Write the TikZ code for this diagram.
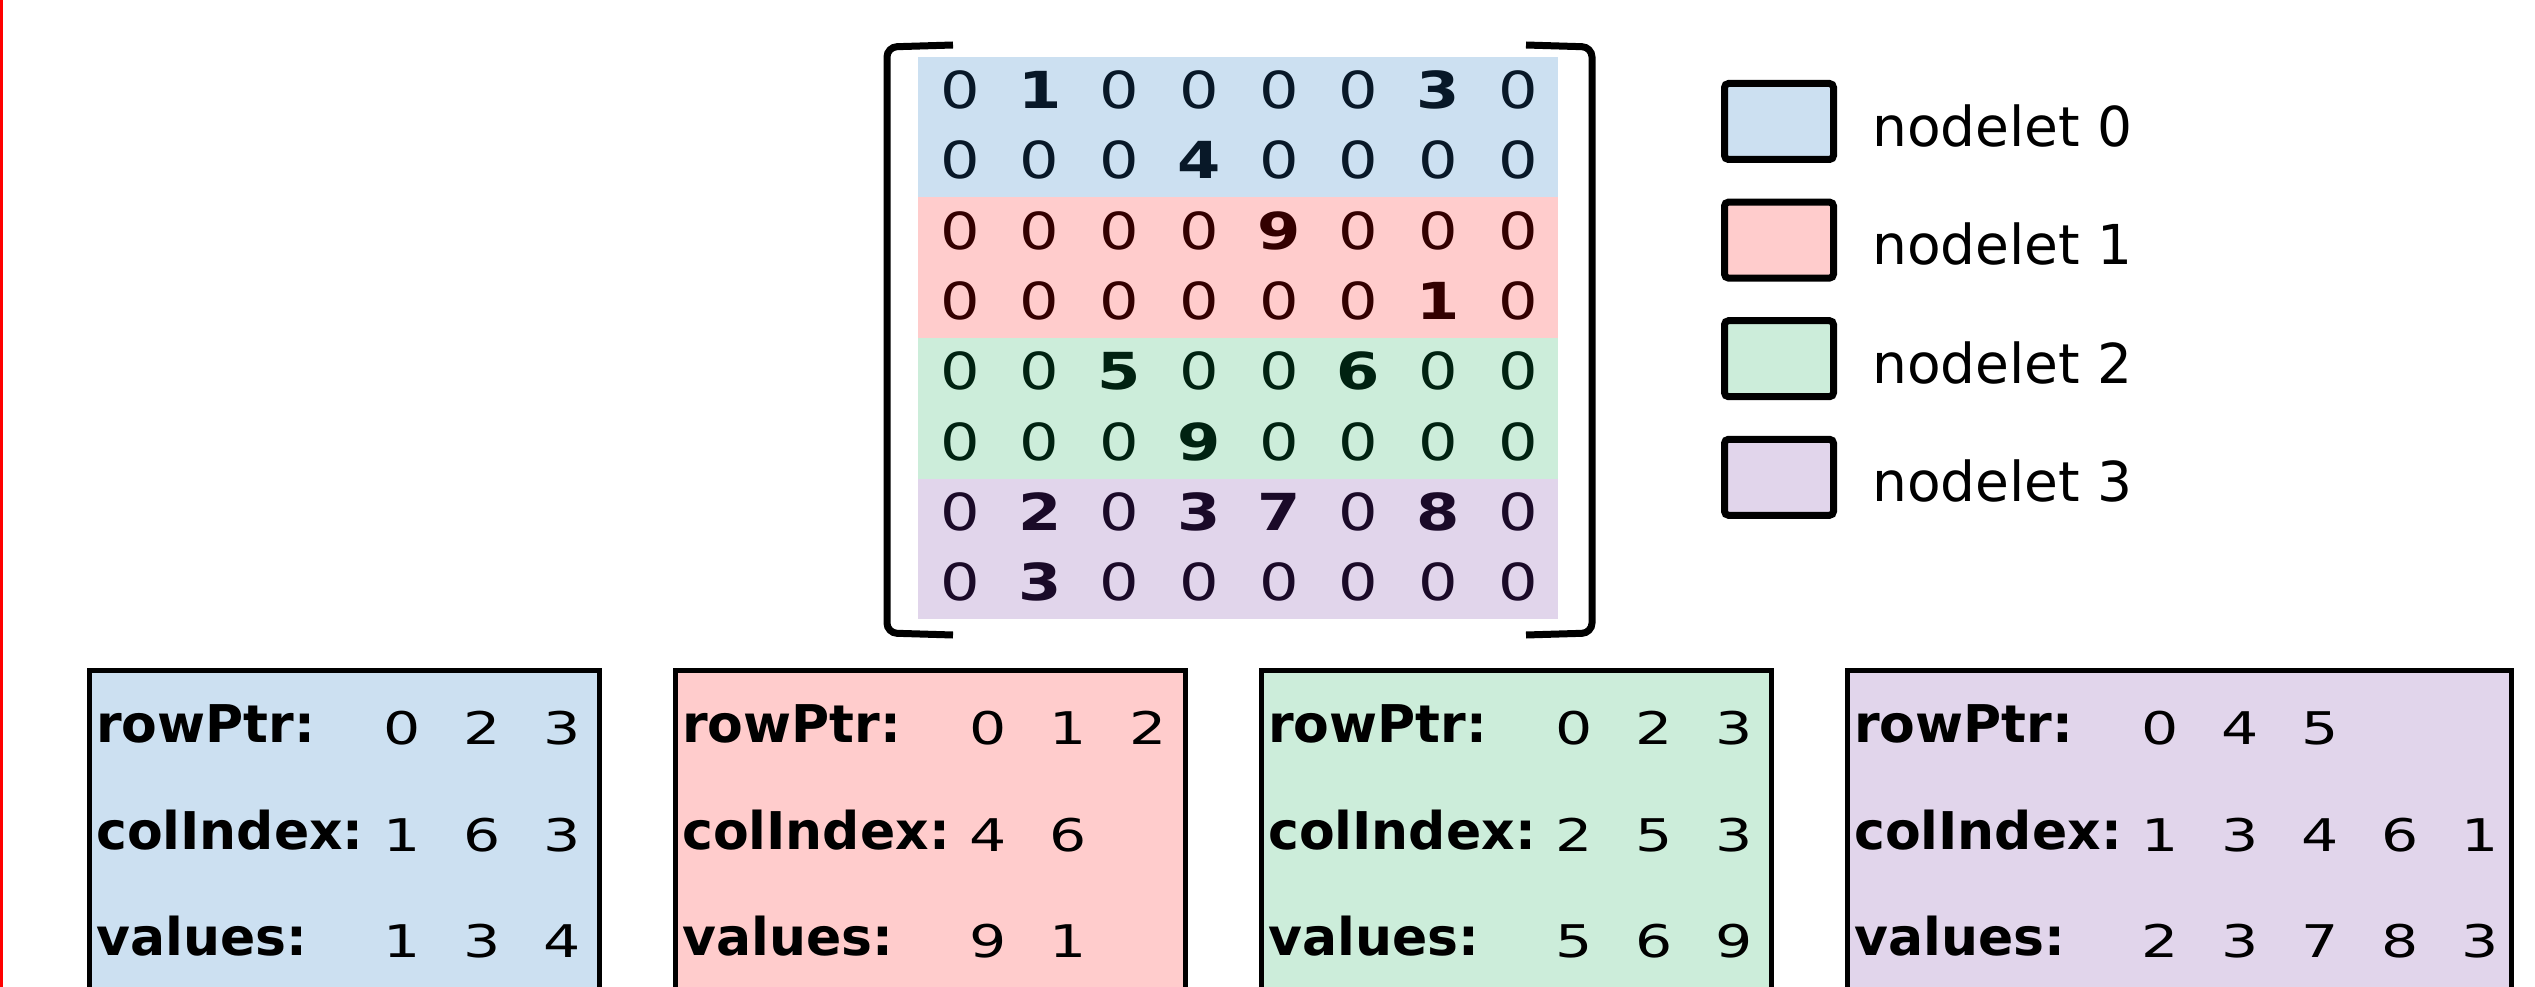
\documentclass[tikz,border=0pt]{standalone}
\usepackage{fontspec}
\setmainfont{DejaVu Sans}
\newfontfamily\numfont[FakeStretch=1.3]{DejaVu Sans}
\newfontfamily\matfont[FakeStretch=1.22]{DejaVu Sans}
\usepackage{tikz}
\usetikzlibrary{positioning}

\definecolor{fill0}{RGB}{204,224,241}
\definecolor{fill1}{RGB}{255,204,204}
\definecolor{fill2}{RGB}{204,237,218}
\definecolor{fill3}{RGB}{225,213,235}
\definecolor{txt0}{RGB}{8,24,40}
\definecolor{txt1}{RGB}{51,0,0}
\definecolor{txt2}{RGB}{0,34,17}
\definecolor{txt3}{RGB}{26,10,40}

\begin{document}
\begin{tikzpicture}[
        x=1pt, y=-1pt,
        band/.style={inner sep=0pt, minimum width=640pt, minimum height=140.5pt},
        entry/.style={inner sep=0pt, font=\matfont\fontsize{51}{60}\selectfont},
        bracket/.style={line width=7pt, rounded corners=10pt},
        sq/.style={draw, line width=7pt, rounded corners=4pt, minimum width=109pt, minimum height=76pt, inner sep=0pt},
        legtext/.style={inner sep=0pt, font=\fontsize{55}{64}\selectfont},
        csr/.style={draw, line width=5pt, minimum height=420pt, inner sep=0pt, anchor=north west},
        lab/.style={anchor=base west, inner sep=0pt, font=\fontsize{52}{60}\selectfont\bfseries},
        num/.style={anchor=base, inner sep=0pt, font=\numfont\fontsize{45}{52}\selectfont},
      ]
      \useasboundingbox (0,0) rectangle (2535,987);
      \clip (0,0) rectangle (2535,987);
      \draw[red, line width=2.5pt] (1.25,0) -- (1.25,987);
      % matrix split over the nodelets
      \foreach \g in {0,...,3}{\node[band, fill=fill\g] (band\g) at (1238,127.25+140.5*\g) {};}
      \foreach \r/\vals in {0/{0,1,0,0,0,0,3,0}, 1/{0,0,0,4,0,0,0,0},
                            2/{0,0,0,0,9,0,0,0}, 3/{0,0,0,0,0,0,1,0},
                            4/{0,0,5,0,0,6,0,0}, 5/{0,0,0,9,0,0,0,0},
                            6/{0,2,0,3,7,0,8,0}, 7/{0,3,0,0,0,0,0,0}}{
        \pgfmathtruncatemacro\grp{int(\r/2)}
        \foreach \v [count=\c from 0] in \vals{
          \node[entry, text=txt\grp] (m-\r-\c) at (960+79.7*\c,90+70.3*\r) {\ifnum\v=0 \v\else\bfseries\v\fi};
        }
      }
      \draw[bracket] (953,45) -- (887,47) -- (887,633) -- (953,635);
      \draw[bracket] (1526,45) -- (1592,47) -- (1592,633) -- (1526,635);
      % legend
      \foreach \g in {0,...,3}{
        \node[sq, fill=fill\g] (sq\g) at (1779,121.5+118.6*\g) {};
        \node[legtext, right=35pt of sq\g, yshift=-4pt] (leg\g) {nodelet \g};
      }
      % CSR arrays of each nodelet
      \foreach \i/\x/\w/\rp/\ci/\va in {0/87/510/{0,2,3}/{1,6,3}/{1,3,4},
                                        1/673/510/{0,1,2}/{4,6}/{9,1},
                                        2/1259/510/{0,2,3}/{2,5,3}/{5,6,9},
                                        3/1845/664/{0,4,5}/{1,3,4,6,1}/{2,3,7,8,3}}{
        \node[csr, fill=fill\i, minimum width=\w pt] (csr\i) at (\x,668) {};
        \node[lab] (rp\i) at (\x+9,742) {rowPtr:};
        \node[lab] (ci\i) at (\x+9,849) {colIndex:};
        \node[lab] (va\i) at (\x+9,955) {values:};
        \foreach \n [count=\j from 0] in \rp{\node[num] (rp\i-\j) at (\x+315+80*\j,744) {\n};}
        \foreach \n [count=\j from 0] in \ci{\node[num] (ci\i-\j) at (\x+315+80*\j,851) {\n};}
        \foreach \n [count=\j from 0] in \va{\node[num] (va\i-\j) at (\x+315+80*\j,957) {\n};}
      }
    \end{tikzpicture}
\end{document}
